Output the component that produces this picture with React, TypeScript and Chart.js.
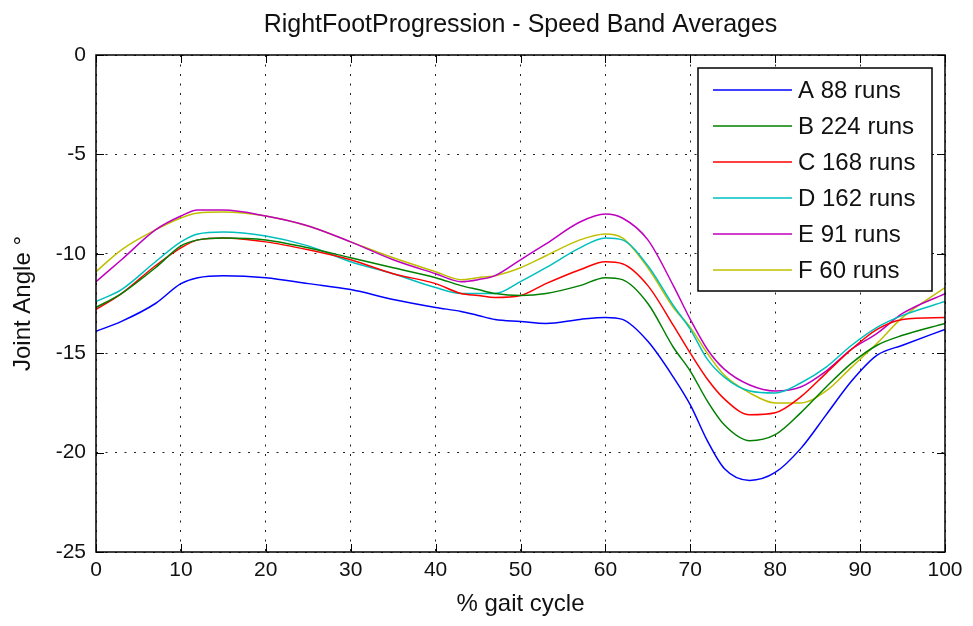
import { useEffect, useRef } from "react";
import { Chart, registerables } from "chart.js";

Chart.register(...registerables);

const chartTitle = "RightFootProgression - Speed Band Averages";
const xAxisTitle = "% gait cycle";
const yAxisTitle = "Joint Angle °";

const gaitPercent = [0, 3, 7, 10, 12, 15, 20, 25, 30, 35, 40, 43, 45, 47, 50, 53, 57, 60, 62, 65, 68, 70, 72, 74, 77, 80, 83, 86, 89, 92, 95, 100];

const seriesA = [-13.9, -13.4, -12.5, -11.5, -11.2, -11.1, -11.2, -11.5, -11.8, -12.3, -12.7, -12.9, -13.1, -13.3, -13.4, -13.5, -13.3, -13.2, -13.3, -14.4, -16.2, -17.6, -19.4, -20.8, -21.4, -21.0, -19.8, -18.1, -16.4, -15.1, -14.6, -13.8];
const seriesB = [-12.7, -12.0, -10.7, -9.6, -9.3, -9.2, -9.3, -9.7, -10.2, -10.7, -11.2, -11.6, -11.8, -12.0, -12.1, -12.0, -11.6, -11.2, -11.3, -12.5, -14.7, -15.9, -17.4, -18.6, -19.4, -19.1, -18.0, -16.7, -15.5, -14.6, -14.1, -13.5];
const seriesC = [-12.8, -12.0, -10.6, -9.7, -9.3, -9.2, -9.4, -9.8, -10.3, -11.0, -11.5, -12.0, -12.1, -12.2, -12.1, -11.5, -10.8, -10.4, -10.5, -11.6, -13.6, -15.0, -16.3, -17.3, -18.1, -18.0, -17.2, -16.0, -14.8, -13.8, -13.3, -13.2];
const seriesD = [-12.4, -11.8, -10.4, -9.4, -9.0, -8.9, -9.1, -9.6, -10.4, -11.0, -11.7, -12.0, -12.0, -12.0, -11.4, -10.7, -9.7, -9.2, -9.3, -10.6, -12.6, -13.8, -15.3, -16.2, -16.9, -17.0, -16.5, -15.7, -14.6, -13.7, -13.1, -12.4];
const seriesE = [-11.4, -10.3, -8.8, -8.1, -7.8, -7.8, -8.1, -8.6, -9.4, -10.3, -11.0, -11.4, -11.3, -11.1, -10.3, -9.5, -8.4, -8.0, -8.2, -9.3, -11.6, -13.3, -14.8, -15.8, -16.6, -16.9, -16.7, -15.9, -14.8, -14.0, -13.0, -12.0];
const seriesF = [-10.9, -9.8, -8.8, -8.2, -7.95, -7.9, -8.1, -8.6, -9.4, -10.2, -10.9, -11.3, -11.2, -11.1, -10.7, -10.1, -9.3, -9.0, -9.2, -10.7, -12.7, -13.7, -15.0, -16.1, -17.0, -17.5, -17.5, -16.9, -15.7, -14.5, -13.2, -11.7];

const seriesLabels = ["A 88 runs", "B 224 runs", "C 168 runs", "D 162 runs", "E 91 runs", "F 60 runs"];
const seriesValues = [seriesA, seriesB, seriesC, seriesD, seriesE, seriesF];
const seriesColors = ["#0000ff", "#008000", "#ff0000", "#00bfbf", "#bf00bf", "#bfbf00"];

const xTicks = [0, 10, 20, 30, 40, 50, 60, 70, 80, 90, 100];
const yTicks = [0, -5, -10, -15, -20, -25];

const FONT = "'Liberation Sans', Arial, Helvetica, sans-serif";

const framePlugin = {
  id: "matlabFrame",
  afterDatasetsDraw(chart: any) {
    const { ctx, chartArea } = chart;
    const { left, right, top, bottom } = chartArea;
    const xs = chart.scales.x;
    const ys = chart.scales.y;
    const tl = 8;
    ctx.save();
    ctx.strokeStyle = "#000";
    ctx.lineWidth = 1;
    ctx.beginPath();
    xTicks.forEach((v) => {
      const px = Math.round(xs.getPixelForValue(v)) + 0.5;
      ctx.moveTo(px, bottom);
      ctx.lineTo(px, bottom - tl);
      ctx.moveTo(px, top);
      ctx.lineTo(px, top + tl);
    });
    yTicks.forEach((v) => {
      const py = Math.round(ys.getPixelForValue(v)) + 0.5;
      ctx.moveTo(left, py);
      ctx.lineTo(left + tl, py);
      ctx.moveTo(right, py);
      ctx.lineTo(right - tl, py);
    });
    ctx.stroke();
    ctx.lineWidth = 1.5;
    ctx.strokeRect(left, top, right - left, bottom - top);
    ctx.restore();
  },
  afterDraw(chart: any) {
    const { ctx, chartArea } = chart;
    ctx.save();
    // title centred over the axes
    ctx.font = `25px ${FONT}`;
    ctx.fillStyle = "#111";
    ctx.textAlign = "center";
    ctx.textBaseline = "middle";
    ctx.fillText(chartTitle, (chartArea.left + chartArea.right) / 2, chartArea.top - 30);

    // legend
    const boxW = 234;
    const boxH = 223;
    const bx = chartArea.right - 13 - boxW;
    const by = chartArea.top + 13;
    ctx.fillStyle = "#fff";
    ctx.fillRect(bx, by, boxW, boxH);
    ctx.strokeStyle = "#000";
    ctx.lineWidth = 1.5;
    ctx.strokeRect(bx, by, boxW, boxH);
    ctx.font = `24px ${FONT}`;
    ctx.textBaseline = "middle";
    ctx.textAlign = "left";
    chart.data.datasets.forEach((ds: any, i: number) => {
      const ry = by + 22 + i * 36;
      ctx.strokeStyle = ds.borderColor;
      ctx.lineWidth = 1.5;
      ctx.beginPath();
      ctx.moveTo(bx + 15, ry);
      ctx.lineTo(bx + 94, ry);
      ctx.stroke();
      ctx.fillStyle = "#111";
      ctx.fillText(ds.label, bx + 100, ry + 1);
    });
    ctx.restore();
  },
};

export default function App() {
  const canvasRef = useRef<HTMLCanvasElement | null>(null);

  useEffect(() => {
    if (!canvasRef.current) return;
    const chart = new Chart(canvasRef.current, {
      type: "line",
      data: {
        datasets: seriesValues.map((vals, i) => ({
          label: seriesLabels[i],
          data: gaitPercent.map((x, j) => ({ x, y: vals[j] })),
          borderColor: seriesColors[i],
          backgroundColor: seriesColors[i],
          borderWidth: 1.5,
          pointRadius: 0,
          fill: false,
          cubicInterpolationMode: "monotone" as const,
        })),
      },
      options: {
        animation: false,
        responsive: false,
        events: [],
        layout: { padding: { left: 0, right: 28, top: 55, bottom: 0 } },
        plugins: {
          legend: { display: false },
          tooltip: { enabled: false },
          title: { display: false },
        },
        scales: {
          x: {
            type: "linear",
            min: 0,
            max: 100,
            afterBuildTicks: (scale: any) => {
              scale.ticks = xTicks.map((v) => ({ value: v }));
            },
            afterFit: (scale: any) => {
              scale.height = 74;
            },
            ticks: {
              color: "#111",
              font: { family: FONT, size: 21 },
              padding: 6,
              maxRotation: 0,
              autoSkip: false,
            },
            grid: { color: "#222", lineWidth: 1, drawTicks: false },
            border: { display: false, dash: [2, 7.5] },
            title: {
              display: true,
              text: xAxisTitle,
              color: "#111",
              font: { family: FONT, size: 24 },
              padding: { top: 0, bottom: 7 },
            },
          },
          y: {
            type: "linear",
            min: -25,
            max: 0,
            afterBuildTicks: (scale: any) => {
              scale.ticks = yTicks.map((v) => ({ value: v }));
            },
            afterFit: (scale: any) => {
              scale.width = 96;
            },
            ticks: {
              color: "#111",
              font: { family: FONT, size: 21 },
              padding: 10,
              autoSkip: false,
            },
            grid: { color: "#222", lineWidth: 1, drawTicks: false },
            border: { display: false, dash: [2, 7.5] },
            title: {
              display: true,
              text: yAxisTitle,
              color: "#111",
              font: { family: FONT, size: 24 },
              padding: { top: 9, bottom: 0 },
            },
          },
        },
      },
      plugins: [framePlugin],
    });
    return () => chart.destroy();
  }, []);

  return (
    <div style={{ position: "fixed", left: 0, top: 0, width: 973, height: 626, background: "#fff" }}>
      <canvas ref={canvasRef} width={973} height={626} style={{ display: "block" }} />
    </div>
  );
}
